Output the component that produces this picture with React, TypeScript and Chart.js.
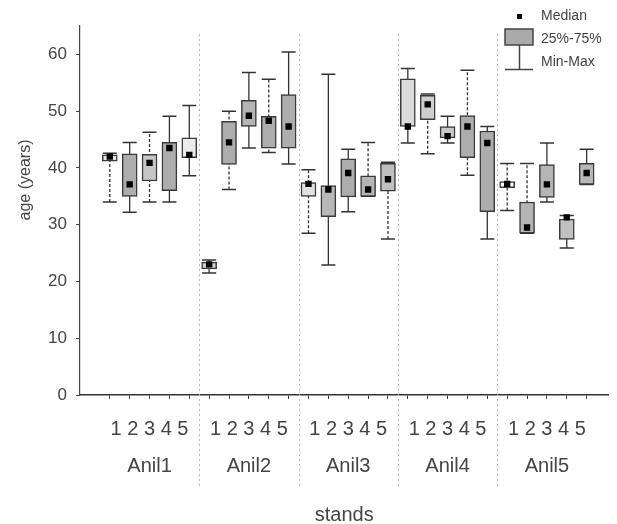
import React, { useEffect, useRef } from 'react';
import { Chart, registerables } from 'chart.js';

Chart.register(...registerables);

// ---- data ----
const groups = ['Anil1', 'Anil2', 'Anil3', 'Anil4', 'Anil5'];
const standLabel = '1 2 3 4 5';
const yTicks = [0, 10, 20, 30, 40, 50, 60];

// 25 boxes: Anil1 stands 1-5, Anil2 stands 1-5, ...
const mins = [34, 32.2, 34, 34, 38.6, 21.5, 36.2, 43.5, 42.7, 40.7, 28.5, 22.9, 32.3, 35, 27.5, 44.4, 42.5, 44.4, 38.7, 27.5, 32.5, 28.5, 34, 25.9, 37.1];
const q1s = [41.2, 35, 37.7, 36, 41.8, 22.2, 40.6, 47.3, 43.5, 43.5, 35, 31.4, 34.9, 35, 35.9, 47.3, 48.5, 45.3, 41.8, 32.3, 36.5, 28.5, 34.8, 27.4, 37.1];
const medians = [42, 37.1, 40.9, 43.5, 42.3, 23, 44.5, 49.2, 48.3, 47.3, 37.2, 36.2, 39.1, 36.2, 38, 47.3, 51.2, 45.6, 47.3, 44.4, 37.2, 29.5, 37.1, 31.3, 39.1];
const q3s = [42.3, 42.5, 42.4, 44.5, 45.3, 23.4, 48.2, 51.9, 49.1, 52.9, 37.4, 36.9, 41.6, 38.6, 40.8, 55.7, 52.8, 47.3, 49.2, 46.5, 37.6, 34, 40.6, 31, 40.8];
const maxs = [42.6, 44.5, 46.3, 49.1, 51, 23.8, 50, 56.8, 55.6, 60.4, 39.7, 56.5, 43.3, 44.5, 41, 57.5, 53, 49.1, 57.2, 47.3, 40.8, 40.8, 44.4, 31.6, 43.3];

// ---- styles ----
const dashedWhisker = [1, 0, 1, 0, 0, 0, 1, 0, 1, 0, 1, 0, 0, 1, 1, 0, 1, 0, 1, 0, 1, 1, 0, 0, 0];
const boxShade = ['#e4e4e4', '#adadad', '#c6c6c6', '#adadad', '#ececec', '#d0d0d0', '#adadad', '#b5b5b5', '#adadad', '#adadad', '#e0e0e0', '#b8b8b8', '#adadad', '#b5b5b5', '#c0c0c0', '#dcdcdc', '#cfcfcf', '#c8c8c8', '#adadad', '#adadad', '#ffffff', '#b5b5b5', '#b5b5b5', '#c0c0c0', '#b8b8b8'];

const FONT = '"Liberation Sans", Arial, sans-serif';
const TEXT = '#444';

export default function App() {
  const ref = useRef<HTMLCanvasElement | null>(null);

  useEffect(() => {
    const n = mins.length;
    const perGroup = n / groups.length;
    const idx = mins.map((_, i) => i);
    const centers = groups.map((_, g) => g * perGroup + (perGroup - 1) / 2);
    const dividers = groups.slice(1).map((_, g) => (g + 1) * perGroup - 0.5);

    const whiskerPts: any[] = [];
    idx.forEach((i) => {
      whiskerPts.push({ x: i, y: mins[i] }, { x: i, y: maxs[i] }, { x: i, y: null });
    });
    const capPts: any[] = [];
    idx.forEach((i) => {
      capPts.push({ x: i, y: mins[i] }, { x: i, y: maxs[i] });
    });

    const decor = {
      id: 'decor',
      beforeDatasetsDraw(chart: any) {
        const { ctx, chartArea, scales } = chart;
        ctx.save();
        ctx.strokeStyle = '#b8b8b8';
        ctx.lineWidth = 1;
        ctx.setLineDash([2, 3]);
        dividers.forEach((v) => {
          const px = Math.round(scales.x.getPixelForValue(v)) + 0.5;
          ctx.beginPath();
          ctx.moveTo(px, chartArea.top + 8);
          ctx.lineTo(px, chartArea.bottom + 93);
          ctx.stroke();
        });
        ctx.restore();
      },
      afterDraw(chart: any) {
        const { ctx } = chart;
        ctx.save();
        // y axis title
        ctx.fillStyle = TEXT;
        ctx.font = `16px ${FONT}`;
        ctx.textAlign = 'center';
        ctx.textBaseline = 'middle';
        ctx.translate(26, 180);
        ctx.rotate(-Math.PI / 2);
        ctx.fillText('age (years)', 0, 0);
        ctx.restore();

        // legend
        ctx.save();
        ctx.fillStyle = '#000';
        ctx.fillRect(517, 14, 5, 5);
        ctx.fillStyle = '#aaaaaa';
        ctx.fillRect(505, 29, 28, 16);
        ctx.strokeStyle = '#444';
        ctx.lineWidth = 1.5;
        ctx.strokeRect(505, 29, 28, 16);
        ctx.beginPath();
        ctx.moveTo(519.5, 45);
        ctx.lineTo(519.5, 69);
        ctx.moveTo(505, 69.5);
        ctx.lineTo(533, 69.5);
        ctx.stroke();
        ctx.fillStyle = TEXT;
        ctx.font = `14px ${FONT}`;
        ctx.textAlign = 'left';
        ctx.textBaseline = 'middle';
        ctx.fillText('Median', 541, 16);
        ctx.fillText('25%-75%', 541, 39);
        ctx.fillText('Min-Max', 541, 62);
        ctx.restore();
      },
    };

    const chart = new Chart(ref.current as HTMLCanvasElement, {
      type: 'bar',
      data: {
        datasets: [
          {
            type: 'scatter',
            label: 'Median',
            data: idx.map((i) => ({ x: i, y: medians[i] })),
            pointStyle: 'rect',
            pointRadius: 4.5,
            backgroundColor: '#000',
            borderColor: '#000',
            borderWidth: 0,
            order: 0,
          } as any,
          {
            type: 'bar',
            label: '25%-75%',
            data: idx.map((i) => ({ x: i, y: [q1s[i], q3s[i]] })),
            backgroundColor: boxShade,
            borderColor: '#3a3a3a',
            borderWidth: 1.5,
            borderSkipped: false,
            barThickness: 15,
            order: 1,
          } as any,
          {
            type: 'scatter',
            label: 'caps',
            data: capPts,
            pointStyle: 'line',
            pointRadius: 7,
            borderColor: '#333',
            borderWidth: 1.5,
            order: 2,
          } as any,
          {
            type: 'line',
            label: 'Min-Max',
            data: whiskerPts,
            borderColor: '#333',
            borderWidth: 1.3,
            pointRadius: 0,
            spanGaps: false,
            segment: {
              borderDash: (c: any) => (dashedWhisker[Math.floor(c.p0DataIndex / 3)] ? [3, 2] : undefined),
            },
            order: 3,
          } as any,
        ],
      },
      options: {
        responsive: false,
        animation: false,
        devicePixelRatio: 1,
        layout: { padding: { top: 26, left: 0, right: 0, bottom: 0 } },
        plugins: { legend: { display: false }, tooltip: { enabled: false } },
        scales: {
          x: {
            type: 'linear',
            min: -1.5,
            max: 25.1,
            offset: false,
            afterBuildTicks: (s: any) => {
              s.ticks = idx.map((v) => ({ value: v }));
            },
            afterFit: (s: any) => {
              s.height = 129;
            },
            grid: { display: true, drawOnChartArea: false, offset: false, tickLength: 4, color: '#444' },
            border: { display: true, color: '#333', width: 1.5 },
            ticks: {
              autoSkip: false,
              maxRotation: 0,
              minRotation: 0,
              padding: 11.5,
              color: TEXT,
              font: { family: FONT, size: 20, lineHeight: 1.85 },
              callback: (value: any) => {
                const g = centers.indexOf(Number(value));
                return g >= 0 ? [standLabel, groups[g]] : '';
              },
            },
            title: {
              display: true,
              text: 'stands',
              color: TEXT,
              font: { family: FONT, size: 20 },
              padding: { top: 0, bottom: -3 },
            },
          },
          y: {
            type: 'linear',
            min: 0,
            max: 65,
            afterBuildTicks: (s: any) => {
              s.ticks = yTicks.map((v) => ({ value: v }));
            },
            afterFit: (s: any) => {
              s.width = 80;
            },
            grid: { display: true, drawOnChartArea: false, tickLength: 4, color: '#444' },
            border: { display: true, color: '#444', width: 1.2 },
            ticks: {
              padding: 9,
              color: TEXT,
              font: { family: FONT, size: 17 },
            },
          },
        },
      } as any,
      plugins: [decor],
    });
    return () => chart.destroy();
  }, []);

  return (
    <div style={{ position: 'absolute', left: 0, top: 0, width: 617, height: 524 }}>
      <canvas ref={ref} width={617} height={524} style={{ display: 'block' }} />
    </div>
  );
}
